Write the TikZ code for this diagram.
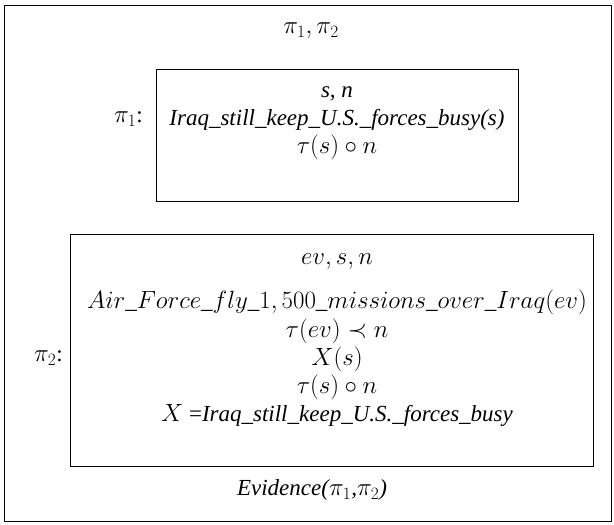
\documentclass[tikz,border=0pt]{standalone}
\usepackage{amsmath,amssymb}
\usepackage{fontspec}
\setmainfont{Liberation Serif}
\usepackage{tikz}
\usetikzlibrary{positioning}

\tikzset{
  drsline/.style={inner sep=0pt,font=\fontsize{23}{27}\selectfont},
  drslabel/.style={inner sep=0pt,font=\fontsize{23}{27}\selectfont}
}

\begin{document}
\begin{tikzpicture}[x=1pt,y=-1pt]
      \useasboundingbox (0,0) rectangle (614,525);

      % Outer box
      \draw[thick] (4,5) rectangle (611,521);
      \node[drslabel] (top) at (311,31) {$\pi_1, \pi_2$};

      % pi_1 box
      \draw[thick] (156,69) rectangle (518,201);
      \node[drslabel,anchor=east] (lab1) at (143,119) {$\pi_1$:};
      \node[drsline] (refa) at (337,94) {\textit{s, n}};
      \node[drsline] (conda) at (337,120) {\textit{Iraq\_still\_keep\_U.S.\_forces\_busy(s)}};
      \node[drsline] (condb) at (337,147) {$\tau(s)\circ n$};

      % pi_2 box
      \draw[thick] (70,234) rectangle (593,466);
      \node[drslabel,anchor=east] (lab2) at (63,358) {$\pi_2$:};
      \node[drsline] (refb) at (337,262) {$ev, s, n$};
      \node[drsline] (condc) at (337,302) {$Air\_Force\_fly\_1,500\_missions\_over\_Iraq(ev)$};
      \node[drsline] (condd) at (337,331) {$\tau(ev)\prec n$};
      \node[drsline] (conde) at (337,359) {$X(s)$};
      \node[drsline] (condf) at (337,387) {$\tau(s)\circ n$};
      \node[drsline] (condg) at (337,415) {$X$ =\textit{Iraq\_still\_keep\_U.S.\_forces\_busy}};

      % relation
      \node[drslabel] (rel) at (312,490) {\textit{Evidence($\pi_1$,$\pi_2$)}};
\end{tikzpicture}
\end{document}
